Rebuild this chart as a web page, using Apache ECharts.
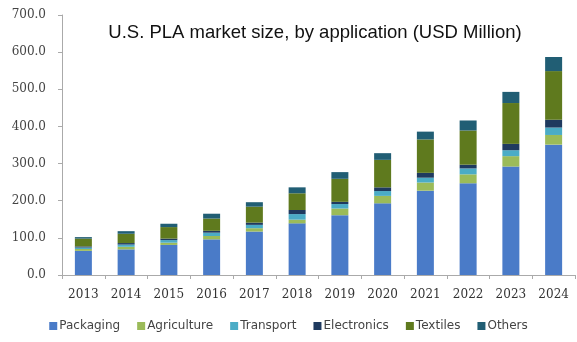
<!DOCTYPE html>
<html>
<head>
<meta charset="utf-8">
<script src="https://cdn.jsdelivr.net/npm/echarts@6/dist/echarts.min.js"></script>
<style>html,body{margin:0;padding:0;background:#fff}#c{width:577px;height:342px}</style>
</head>
<body>
<div id="c"></div>
<script>
var years = ['2013','2014','2015','2016','2017','2018','2019','2020','2021','2022','2023','2024'];
var packaging   = [65, 69, 81, 96, 117, 139, 161, 193, 227, 247, 292, 351];
var agriculture = [5, 7, 6, 9, 9, 10, 18, 20, 22, 24, 28, 26];
var transport   = [4, 6, 7, 9, 9, 15, 12, 13, 13, 16, 16, 20];
var electronics = [3, 4, 4, 5, 6, 11, 6, 10, 13, 10, 17, 21];
var textiles    = [21, 25, 31, 33, 43, 45, 62, 74, 90, 92, 110, 131];
var others      = [4, 7, 9, 13, 12, 16, 18, 18, 21, 27, 30, 38];
var yTicks = [0, 100, 200, 300, 400, 500, 600, 700];

var names = ['Packaging','Agriculture','Transport','Electronics','Textiles','Others'];
var colors = ['#4a7bc8','#9bbb59','#4bacc6','#1f3a5f','#5f7a1e','#215e74'];
var data = [packaging, agriculture, transport, electronics, textiles, others];

var chart = echarts.init(document.getElementById('c'));
chart.setOption({
  animation: false,
  title: {
    text: 'U.S. PLA market size, by application (USD Million)',
    left: 310, top: 18, textAlign: 'center',
    textStyle: {fontFamily: 'Liberation Sans', fontSize: 18.5, fontWeight: 'normal', color: '#111'}
  },
  legend: {
    bottom: 5, left: 'center',
    itemWidth: 8, itemHeight: 8, itemGap: 17,
    icon: 'rect',
    textStyle: {fontFamily: 'DejaVu Sans', fontSize: 12, color: '#444', padding: [0,0,0,-3]},
    data: names
  },
  grid: {left: 62, right: 2, top: 15, bottom: 67},
  xAxis: {
    type: 'category', data: years,
    axisLine: {lineStyle: {color: '#aaa'}},
    axisTick: {show: true, length: 4, lineStyle: {color: '#aaa'}},
    axisLabel: {interval: 0, fontFamily: 'DejaVu Serif', fontSize: 12, color: '#333', margin: 14}
  },
  yAxis: {
    type: 'value', min: 0, max: 700, interval: 100,
    axisLine: {show: true, lineStyle: {color: '#aaa'}},
    axisTick: {show: true, length: 4, lineStyle: {color: '#aaa'}},
    splitLine: {show: false},
    axisLabel: {fontFamily: 'DejaVu Serif', fontSize: 12, color: '#444', margin: 16,
      formatter: function (v) { return v.toFixed(1); }}
  },
  series: names.map(function (n, i) {
    return {
      name: n, type: 'bar', stack: 'total', barWidth: 17,
      itemStyle: {color: colors[i]},
      data: data[i]
    };
  })
});
</script>
</body>
</html>
